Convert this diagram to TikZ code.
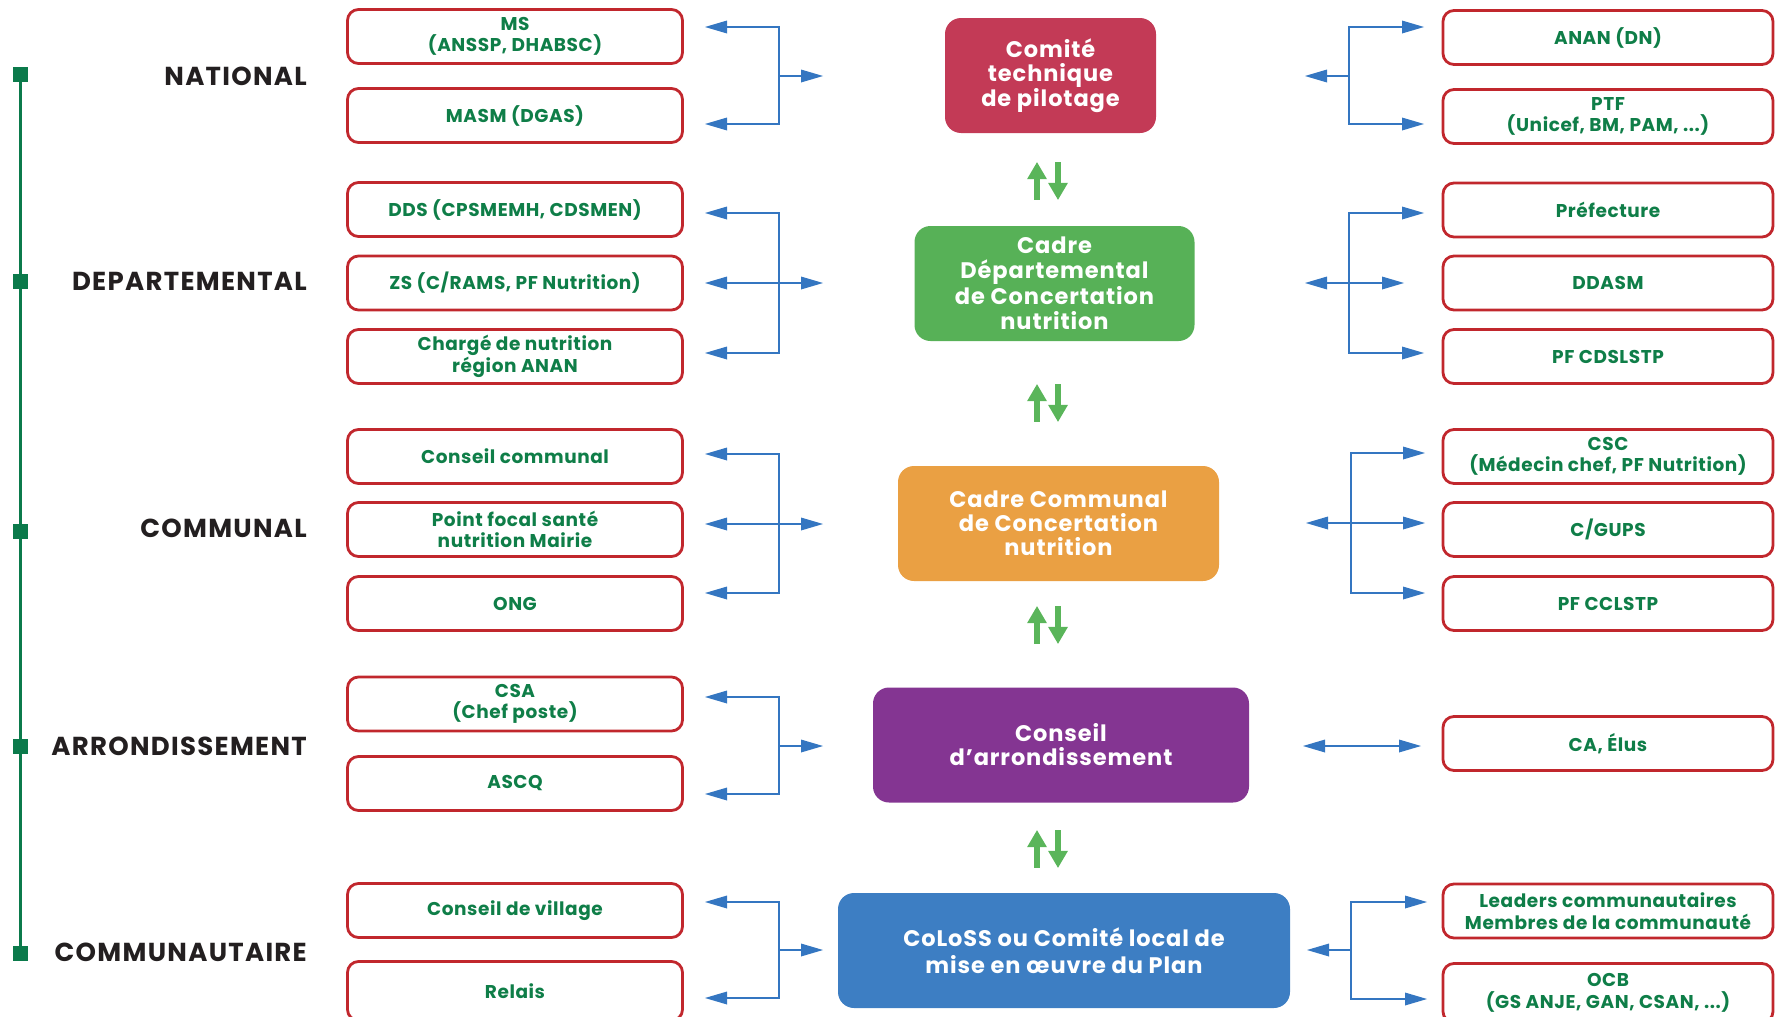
\documentclass[tikz,border=0pt]{standalone}
\usepackage{fontspec}
\setmainfont{Poppins}
\usetikzlibrary{arrows.meta, positioning}

\definecolor{boxred}{HTML}{C1272D}
\definecolor{actgreen}{HTML}{0F7E48}
\definecolor{axisgreen}{HTML}{0B7A4B}
\definecolor{lvlgray}{HTML}{231F20}
\definecolor{linkblue}{HTML}{3476C1}
\definecolor{arrgreen}{HTML}{5AB55A}
\definecolor{cotechred}{HTML}{C33A56}
\definecolor{cdcngreen}{HTML}{57B157}
\definecolor{cccnorange}{HTML}{EAA043}
\definecolor{carrpurple}{HTML}{843592}
\definecolor{colossblue}{HTML}{3D7EC3}

\tikzset{
        actor/.style={rectangle, draw=boxred, line width=2.8pt, rounded corners=11pt, minimum width=335pt, minimum height=54pt, inner sep=0pt, align=center, text=actgreen, font=\fontsize{18.5}{21.5}\selectfont\bfseries\addfontfeatures{LetterSpace=3}},
        actorR/.style={actor, minimum width=330pt},
        instance/.style={rectangle, rounded corners=16pt, minimum height=115pt, inner sep=0pt, align=center, text=white, font=\fontsize{22.5}{24}\selectfont\bfseries\addfontfeatures{LetterSpace=4}},
        level/.style={anchor=east, inner sep=0pt, text=lvlgray, font=\fontsize{26}{26}\selectfont\bfseries\addfontfeatures{LetterSpace=5}},
        marker/.style={rectangle, fill=axisgreen, minimum size=15pt, inner sep=0pt},
        axis/.style={draw=axisgreen, line width=3pt},
        link/.style={draw=linkblue, line width=2.5pt},
        updown/.style={draw=arrgreen, line width=6pt, -{Triangle[length=17pt, width=20pt, line width=0pt]}},
    }

\begin{document}
\begin{tikzpicture}[x=1pt, y=-1pt, >={Triangle[length=22pt, width=13pt, line width=0pt]}]
        \useasboundingbox (0,0) rectangle (1775,1017);

        % Levels
        \node[marker] (mnat) at (20,74) {};
        \node[marker] (mdep) at (20,281.5) {};
        \node[marker] (mcom) at (20,531) {};
        \node[marker] (marr) at (20,746.5) {};
        \node[marker] (mcty) at (20,953.5) {};
        \draw[axis] (mnat) -- (mcty);

        \node[level] (nat) at (307,76.5) {NATIONAL};
        \node[level] (dep) at (307,281) {DEPARTEMENTAL};
        \node[level] (com) at (307,528.5) {COMMUNAL};
        \node[level] (arr) at (307,746) {ARRONDISSEMENT};
        \node[level] (cty) at (307,952) {COMMUNAUTAIRE};

        % Coordination bodies
        \node[instance, fill=cotechred, minimum width=211pt] (cotech) at (1050.5,75.5) {Comité\\technique\\de pilotage};
        \node[instance, fill=cdcngreen, minimum width=280pt, font=\fontsize{22.5}{25.5}\selectfont\bfseries\addfontfeatures{LetterSpace=4}] (cdcn) at (1054.5,283.5) {Cadre\\Départemental\\de Concertation\\nutrition};
        \node[instance, fill=cccnorange, minimum width=321pt] (cccn) at (1058.5,523.5) {Cadre Communal\\de Concertation\\nutrition};
        \node[instance, fill=carrpurple, minimum width=376pt] (carr) at (1061,745) {Conseil\\d’arrondissement};
        \node[instance, fill=colossblue, minimum width=452pt, font=\fontsize{22.5}{27}\selectfont\bfseries\addfontfeatures{LetterSpace=4}] (coloss) at (1064,950.5) {CoLoSS ou Comité local de\\mise en œuvre du Plan};

        % Up and down between bodies
        \coordinate (vup) at (1037,0);
        \coordinate (vdn) at (1058,0);
        \draw[updown, shorten <=26pt, shorten >=29pt] (vup |- cdcn.north) -- (vup |- cotech.south);
        \draw[updown, shorten <=29pt, shorten >=26pt] (vdn |- cotech.south) -- (vdn |- cdcn.north);
        \draw[updown, shorten <=44pt, shorten >=43pt] (vup |- cccn.north) -- (vup |- cdcn.south);
        \draw[updown, shorten <=43pt, shorten >=44pt] (vdn |- cdcn.south) -- (vdn |- cccn.north);
        \draw[updown, shorten <=43.5pt, shorten >=25pt] (vup |- carr.north) -- (vup |- cccn.south);
        \draw[updown, shorten <=25pt, shorten >=43.5pt] (vdn |- cccn.south) -- (vdn |- carr.north);
        \draw[updown, shorten <=25pt, shorten >=27.5pt] (vup |- coloss.north) -- (vup |- carr.south);
        \draw[updown, shorten <=27.5pt, shorten >=25pt] (vdn |- carr.south) -- (vdn |- coloss.north);

        % National
        \node[actor] (ms) at (515,36.5) {MS\\(ANSSP, DHABSC)};
        \node[actor] (masm) at (515,115.5) {MASM (DGAS)};
        \node[actorR] (anan) at (1608,37.5) {ANAN (DN)};
        \node[actorR] (ptf) at (1608,116.5) {PTF\\(Unicef, BM, PAM, ...)};

        % Departemental
        \node[actor] (dds) at (515,209.5) {DDS (CPSMEMH, CDSMEN)};
        \node[actor] (zs) at (515,283) {ZS (C/RAMS, PF Nutrition)};
        \node[actor] (charge) at (515,356.5) {Chargé de nutrition\\région ANAN};
        \node[actorR] (pref) at (1608,210) {Préfecture};
        \node[actorR] (ddasm) at (1608,283) {DDASM};
        \node[actorR] (pfcds) at (1608,356.5) {PF CDSLSTP};

        % Communal
        \node[actor] (ccom) at (515,456.5) {Conseil communal};
        \node[actor] (pfsn) at (515,529.5) {Point focal santé\\nutrition Mairie};
        \node[actor] (ong) at (515,603.5) {ONG};
        \node[actorR] (csc) at (1608,456.5) {CSC\\(Médecin chef, PF Nutrition)};
        \node[actorR] (cgups) at (1608,529.5) {C/GUPS};
        \node[actorR] (pfccl) at (1608,603.5) {PF CCLSTP};

        % Arrondissement
        \node[actor] (csa) at (515,704) {CSA\\(Chef poste)};
        \node[actor] (ascq) at (515,783.5) {ASCQ};
        \node[actorR] (ca) at (1608,743.5) {CA, Élus};

        % Communautaire
        \node[actor] (cvil) at (515,910.5) {Conseil de village};
        \node[actor, minimum height=59pt] (relais) at (515,991) {Relais};
        \node[actorR] (lead) at (1608,911) {Leaders communautaires\\Membres de la communauté};
        \node[actorR, minimum height=59pt] (ocb) at (1608,993) {OCB\\(GS ANJE, GAN, CSAN, ...)};

        % Links, left side
        \coordinate (ms-in) at (705,27);
        \coordinate (masm-in) at (705,124);
        \coordinate (nat-l) at (779,76);
        \coordinate (nat-out) at (823,76);
        \draw[link, <->] (ms-in) -| (nat-l) |- (masm-in);
        \draw[link, ->] (nat-l) -- (nat-out);

        \coordinate (dds-in) at (705,213);
        \coordinate (zs-in) at (705,283);
        \coordinate (charge-in) at (705,353);
        \coordinate (dep-l) at (779,283);
        \coordinate (dep-out) at (823,283);
        \draw[link, <->] (dds-in) -| (dep-l) |- (charge-in);
        \draw[link, <->] (zs-in) -- (dep-out);

        \coordinate (ccom-in) at (705,454);
        \coordinate (pfsn-in) at (705,524);
        \coordinate (ong-in) at (705,593);
        \coordinate (com-l) at (779,524);
        \coordinate (com-out) at (823,524);
        \draw[link, <->] (ccom-in) -| (com-l) |- (ong-in);
        \draw[link, <->] (pfsn-in) -- (com-out);

        \coordinate (csa-in) at (705,697);
        \coordinate (ascq-in) at (705,794);
        \coordinate (arr-l) at (779,746);
        \coordinate (arr-out) at (823,746);
        \draw[link, <->] (csa-in) -| (arr-l) |- (ascq-in);
        \draw[link, ->] (arr-l) -- (arr-out);

        \coordinate (cvil-in) at (705,902);
        \coordinate (relais-in) at (705,998);
        \coordinate (cty-l) at (779,950);
        \coordinate (cty-out) at (823,950);
        \draw[link, <->] (cvil-in) -| (cty-l) |- (relais-in);
        \draw[link, ->] (cty-l) -- (cty-out);

        % Links, right side
        \coordinate (anan-in) at (1424,27);
        \coordinate (ptf-in) at (1424,124);
        \coordinate (nat-r) at (1349,76);
        \coordinate (nat-back) at (1305,76);
        \draw[link, <->] (anan-in) -| (nat-r) |- (ptf-in);
        \draw[link, ->] (nat-r) -- (nat-back);

        \coordinate (pref-in) at (1424,213);
        \coordinate (ddasm-in) at (1404,283);
        \coordinate (pfcds-in) at (1424,353);
        \coordinate (dep-r) at (1349,283);
        \coordinate (dep-back) at (1305,283);
        \draw[link, <->] (pref-in) -| (dep-r) |- (pfcds-in);
        \draw[link, <->] (dep-back) -- (ddasm-in);

        \coordinate (csc-in) at (1425,453);
        \coordinate (cgups-in) at (1425,523);
        \coordinate (pfccl-in) at (1425,593);
        \coordinate (com-r) at (1351,523);
        \coordinate (com-back) at (1306,523);
        \draw[link, <->] (csc-in) -| (com-r) |- (pfccl-in);
        \draw[link, <->] (com-back) -- (cgups-in);

        \coordinate (ca-in) at (1421,746);
        \coordinate (arr-back) at (1303,746);
        \draw[link, <->] (arr-back) -- (ca-in);

        \coordinate (lead-in) at (1427,902);
        \coordinate (ocb-in) at (1427,999);
        \coordinate (cty-r) at (1351,950);
        \coordinate (cty-back) at (1307,950);
        \draw[link, <->] (lead-in) -| (cty-r) |- (ocb-in);
        \draw[link, ->] (cty-r) -- (cty-back);
    \end{tikzpicture}
\end{document}
